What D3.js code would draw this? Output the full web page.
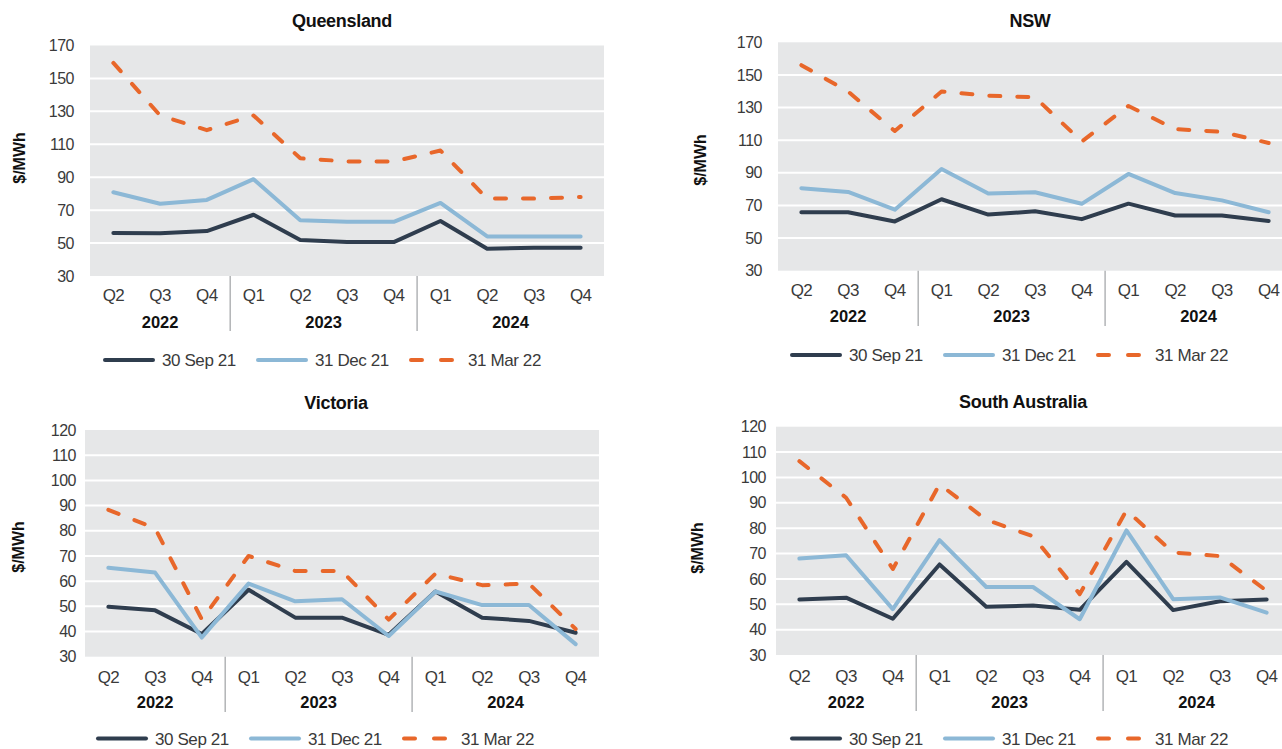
<!DOCTYPE html>
<html>
<head>
<meta charset="utf-8">
<script src="https://cdn.jsdelivr.net/npm/d3@7"></script>
<style>
  body { margin: 0; background: #fff; }
  svg { display: block; }
  text { font-family: "Liberation Sans", Arial, sans-serif; }
</style>
</head>
<body>
<svg id="chart" width="1282" height="749"></svg>
<script>
// Quarterly periods on the x axis
const quarters = ["Q2", "Q3", "Q4", "Q1", "Q2", "Q3", "Q4", "Q1", "Q2", "Q3", "Q4"];
const years = ["2022", "2023", "2024"];
const quartersPerYear = [3, 4, 4];
const seriesNames = ["30 Sep 21", "31 Dec 21", "31 Mar 22"];

// Tick values ($/MWh)
const ticksUpper = [30, 50, 70, 90, 110, 130, 150, 170];
const ticksLower = [30, 40, 50, 60, 70, 80, 90, 100, 110, 120];

// Queensland
const qldSep = [56.1, 56.0, 57.3, 67.2, 51.8, 50.6, 50.6, 63.4, 46.5, 47.2, 47.2];
const qldDec = [80.9, 73.9, 76.2, 88.8, 63.8, 62.9, 62.9, 74.4, 54.0, 54.0, 54.0];
const qldMar = [159.4, 127.5, 118.6, 127.5, 101.5, 99.6, 99.6, 106.2, 77.0, 77.0, 78.0];

// NSW
const nswSep = [65.8, 65.8, 60.2, 73.8, 64.4, 66.4, 61.6, 71.1, 63.8, 63.8, 60.5];
const nswDec = [80.6, 78.3, 67.4, 92.3, 77.3, 78.1, 71.0, 89.3, 77.6, 73.1, 65.8];
const nswMar = [156.0, 139.8, 115.6, 139.8, 137.3, 136.3, 109.2, 131.0, 116.8, 115.1, 108.3];

// Victoria
const vicSep = [49.8, 48.4, 39.0, 56.6, 45.5, 45.5, 38.7, 55.9, 45.5, 44.2, 39.5];
const vicDec = [65.3, 63.4, 37.6, 59.0, 52.0, 52.8, 38.2, 55.9, 50.5, 50.5, 35.0];
const vicMar = [88.3, 81.0, 44.8, 70.0, 64.0, 64.0, 44.7, 63.0, 58.4, 59.0, 41.0];

// South Australia
const saSep = [51.9, 52.6, 44.3, 65.7, 49.0, 49.5, 47.8, 66.7, 47.7, 51.2, 51.9];
const saDec = [68.0, 69.3, 48.1, 75.3, 56.8, 56.8, 44.1, 79.1, 52.0, 52.7, 46.7];
const saMar = [106.4, 92.0, 63.9, 97.3, 83.3, 76.8, 54.0, 87.0, 70.4, 69.0, 55.3];

const colors = ["#2f3d4e", "#8cb8d6", "#e8672a"];
const dashes = [null, null, "11 17"];

const panels = [
  { title: "Queensland", values: [qldSep, qldDec, qldMar], ticks: ticksUpper,
    left: 90, top: 45.5, bottom: 276, tickGap: 16, unitX: 19, unitY: 158,
    titleX: 342, titleY: 21, qY: 295, yearY: 322, sepEnd: 331, legendX: 103, legendY: 360 },
  { title: "NSW", values: [nswSep, nswDec, nswMar], ticks: ticksUpper,
    left: 778, top: 42.3, bottom: 270.7, tickGap: 16, unitX: 700, unitY: 160,
    titleX: 1030, titleY: 21, qY: 290, yearY: 316.5, sepEnd: 326, legendX: 790, legendY: 355 },
  { title: "Victoria", values: [vicSep, vicDec, vicMar], ticks: ticksLower,
    left: 85, top: 430, bottom: 656.7, tickGap: 9, unitX: 18, unitY: 547,
    titleX: 336, titleY: 403, qY: 677, yearY: 702, sepEnd: 712, legendX: 96, legendY: 738.5 },
  { title: "South Australia", values: [saSep, saDec, saMar], ticks: ticksLower,
    left: 776, top: 426.7, bottom: 655, tickGap: 10, unitX: 697, unitY: 548,
    titleX: 1023, titleY: 402, qY: 676, yearY: 702, sepEnd: 711, legendX: 790, legendY: 738.5 }
];

const svg = d3.select("#chart");
const plotWidth = 514;
const idx = d3.range(quarters.length);

panels.forEach(p => {
  const g = svg.append("g");
  const x = d3.scaleBand().domain(idx).range([p.left, p.left + plotWidth]).paddingInner(0).paddingOuter(0);
  const y = d3.scaleLinear().domain(d3.extent(p.ticks)).range([p.bottom, p.top]);
  const cx = i => x(i) + x.bandwidth() / 2;

  // plot background
  g.append("rect")
    .attr("x", p.left).attr("y", p.top)
    .attr("width", plotWidth).attr("height", p.bottom - p.top)
    .attr("fill", "#e6e7e8");

  // horizontal gridlines
  g.selectAll(".grid")
    .data(p.ticks.slice(1, -1))
    .join("line")
    .attr("x1", p.left).attr("x2", p.left + plotWidth)
    .attr("y1", d => y(d)).attr("y2", d => y(d))
    .attr("stroke", "#ffffff").attr("stroke-width", 2);

  // y axis labels
  const yAxis = g.append("g")
    .attr("transform", `translate(${p.left},0)`)
    .call(d3.axisLeft(y).tickValues(p.ticks).tickSize(0).tickPadding(p.tickGap));
  yAxis.select(".domain").remove();
  yAxis.selectAll("text")
    .attr("font-family", "Liberation Sans, Arial, sans-serif")
    .attr("font-size", 16).attr("letter-spacing", "-0.5")
    .attr("fill", "#3a3a3a");

  // quarter labels
  const xAxis = g.append("g")
    .attr("transform", `translate(0,${p.qY})`)
    .call(d3.axisBottom(x).tickSize(0).tickPadding(0).tickFormat(i => quarters[i]));
  xAxis.select(".domain").remove();
  xAxis.selectAll("text")
    .attr("y", 0).attr("dy", "0.36em")
    .attr("font-family", "Liberation Sans, Arial, sans-serif")
    .attr("font-size", 17).attr("letter-spacing", "-0.6")
    .attr("fill", "#3a3a3a");

  // year groups: separators and labels
  let start = 0;
  years.forEach((yr, k) => {
    const n = quartersPerYear[k];
    if (start > 0) {
      g.append("line")
        .attr("x1", x(start)).attr("x2", x(start))
        .attr("y1", p.bottom).attr("y2", p.sepEnd)
        .attr("stroke", "#a6a8ab").attr("stroke-width", 1.3);
    }
    const mid = (cx(start) + cx(start + n - 1)) / 2;
    g.append("text")
      .attr("x", mid).attr("y", p.yearY).attr("dy", "0.36em")
      .attr("text-anchor", "middle")
      .attr("font-size", 16.5).attr("font-weight", "bold")
      .attr("fill", "#111")
      .text(yr);
    start += n;
  });

  // series lines
  const line = d3.line().x((d, i) => cx(i)).y(d => y(d));
  p.values.forEach((vals, s) => {
    g.append("path")
      .datum(vals)
      .attr("d", line)
      .attr("fill", "none")
      .attr("stroke", colors[s])
      .attr("stroke-width", 4)
      .attr("stroke-linejoin", "round")
      .attr("stroke-linecap", "round")
      .attr("stroke-dasharray", dashes[s]);
  });

  // title
  g.append("text")
    .attr("x", p.titleX).attr("y", p.titleY).attr("dy", "0.36em")
    .attr("text-anchor", "middle")
    .attr("font-size", 18).attr("font-weight", "bold").attr("letter-spacing", "-0.3")
    .attr("fill", "#111")
    .text(p.title);

  // unit label
  g.append("text")
    .attr("transform", `translate(${p.unitX},${p.unitY}) rotate(-90)`)
    .attr("dy", "0.36em")
    .attr("text-anchor", "middle")
    .attr("font-size", 16).attr("font-weight", "bold")
    .attr("fill", "#111")
    .text("$/MWh");

  // legend
  const legend = g.append("g").attr("transform", `translate(${p.legendX},${p.legendY})`);
  seriesNames.forEach((name, s) => {
    const item = legend.append("g").attr("transform", `translate(${s * 153},0)`);
    item.append("line")
      .attr("x1", 2).attr("x2", s === 2 ? 44 : 50)
      .attr("y1", 0).attr("y2", 0)
      .attr("stroke", colors[s]).attr("stroke-width", 4)
      .attr("stroke-linecap", "round")
      .attr("stroke-dasharray", s === 2 ? "11 19" : null);
    item.append("text")
      .attr("x", 59).attr("y", 0).attr("dy", "0.36em")
      .attr("font-size", 17).attr("letter-spacing", "-0.4")
      .attr("fill", "#3a3a3a")
      .text(name);
  });
});
</script>
</body>
</html>
